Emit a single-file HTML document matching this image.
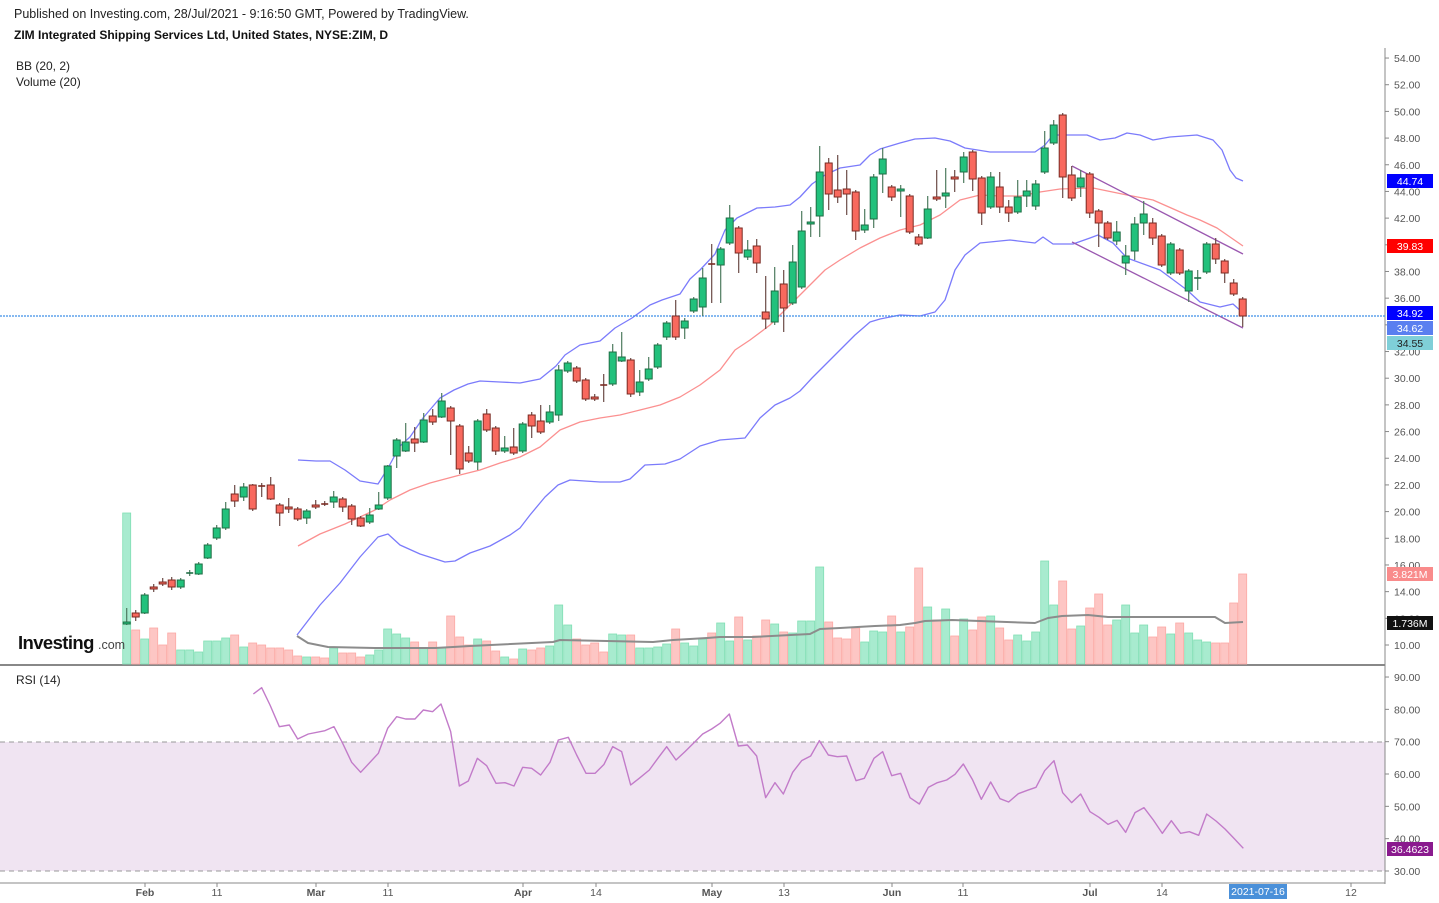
<!DOCTYPE html>
<html><head><meta charset="utf-8">
<style>
html,body{margin:0;padding:0;background:#fff;}
svg{display:block;font-family:"Liberation Sans",Arial,sans-serif;}
</style></head>
<body>
<svg id="s" width="1439" height="903" viewBox="0 0 1439 903" xmlns="http://www.w3.org/2000/svg">
<rect width="1439" height="903" fill="#fff"/>
<text x="14" y="18" font-size="12.5" fill="#222">Published on Investing.com, 28/Jul/2021 - 9:16:50 GMT, Powered by TradingView.</text>
<text x="14" y="39" font-size="12" font-weight="bold" fill="#111">ZIM Integrated Shipping Services Ltd, United States, NYSE:ZIM, D</text>
<text x="16" y="70" font-size="12" fill="#222">BB (20, 2)</text>
<text x="16" y="86" font-size="12" fill="#222">Volume (20)</text>
<text x="16" y="684" font-size="12" fill="#222">RSI (14)</text>
<g id="g"></g>
</svg>
<script>
var NS="http://www.w3.org/2000/svg",G=document.getElementById('g');
function el(t,a,txt){var e=document.createElementNS(NS,t);for(var k in a)e.setAttribute(k,a[k]);if(txt!==undefined)e.textContent=txt;G.appendChild(e);return e;}
function X(i){return 126.7+9*i;}
el('rect',{x:0,y:742,width:1385,height:129,fill:'#f0e4f2'});
el('line',{x1:0,y1:742,x2:1385,y2:742,stroke:'#999','stroke-dasharray':'5,4','stroke-width':1});
el('line',{x1:0,y1:871,x2:1385,y2:871,stroke:'#999','stroke-dasharray':'5,4','stroke-width':1});
el('line',{x1:1385,y1:48,x2:1385,y2:884,stroke:'#888','stroke-width':1});
el('line',{x1:0,y1:665,x2:1385,y2:665,stroke:'#888','stroke-width':2});
el('line',{x1:0,y1:883,x2:1385,y2:883,stroke:'#888','stroke-width':1});
for(var p=10;p<=54;p+=2){var y=645-(p-10)*13.34;el('line',{x1:1385,y1:y,x2:1389,y2:y,stroke:'#888'});el('text',{x:1394,y:y+4,'font-size':10.5,fill:'#555'},p.toFixed(2));}
for(var r=30;r<=90;r+=10){var y=871-(r-30)*3.233;el('line',{x1:1385,y1:y,x2:1389,y2:y,stroke:'#888'});el('text',{x:1394,y:y+4,'font-size':10.5,fill:'#555'},r.toFixed(2));}
var xl=[["Feb",145],["11",217],["Mar",316],["11",388],["Apr",523],["14",596],["May",712],["13",784],["Jun",892],["11",963],["Jul",1090],["14",1162],["12",1351]];
xl.forEach(function(a){el('line',{x1:a[1],y1:883,x2:a[1],y2:887,stroke:'#888'});el('text',{x:a[1],y:896,'font-size':10.5,fill:'#555','text-anchor':'middle','font-weight':(isNaN(+a[0])?'bold':'normal')},a[0]);});
el('rect',{x:1229,y:884,width:58,height:15,fill:'#4a90d9'});
el('text',{x:1258,y:895,'font-size':10.5,fill:'#fff','text-anchor':'middle'},'2021-07-16');
var V="g513,r630,g639,r628,r645,r633,g650,g650,g652,g641,g641,g638,r635,g647,r643,r645,r648,r648,r650,r656,g657,r657,r658,g648,r653,r653,r657,g655,g650,g629,g634,g638,r642,g648,r642,g648,r616,r637,r645,g639,r641,r651,g657,r659,g649,r650,r648,g646,g605,g625,r639,r645,r643,r652,g634,g635,r635,g648,g648,g647,g644,r629,g643,g646,g639,r633,g623,g641,r617,g640,r636,r620,g624,r632,g633,g621,g621,g567,r622,r638,r639,r628,g642,g631,g632,r616,g632,r627,r568,g607,r620,g609,r636,g619,r630,r617,g616,r628,r640,g635,g641,g632,g561,g605,r581,r629,g626,r608,r594,r625,g620,g605,g633,g625,r637,r627,g634,r623,g633,g640,g642,r643,r643,r603,r574".split(',');
V.forEach(function(v,i){var t=+v.slice(1),g=v[0]=='g';el('rect',{x:X(i)-4,y:t,width:8,height:664-t,fill:g?'#a8ebcf':'#fdc6c4',stroke:g?'#80dfb4':'#fca9a5','stroke-width':0.8});});
function poly(pts,c,w){el('polyline',{points:pts.map(function(p){return p.join(',')}).join(' '),fill:'none',stroke:c,'stroke-width':w||1.2,'stroke-linejoin':'round'});}
poly([[297,636],[308,643],[328,647],[375,648],[435,648],[453,647],[470,646],[553,642],[560,640],[653,642],[673,640],[707,638],[720,637],[753,637],[810,634],[820,629],[840,628],[875,626],[900,625],[915,623],[925,621],[952,620],[1035,623],[1048,618],[1062,616],[1088,615],[1108,617],[1215,617],[1225,623],[1243,622]],'#8c8c8c',2);
poly([[298,460],[316,461],[330,461],[345,470],[360,481],[378,484],[388,468],[400,446],[410,437],[423,418],[440,398],[454,390],[468,384],[480,381],[500,382],[520,383],[540,379],[556,366],[565,355],[580,345],[600,341],[615,328],[632,318],[650,305],[662,300],[680,294],[690,279],[700,270],[715,254],[725,230],[737,218],[757,208],[775,207],[790,205],[800,197],[812,184],[825,175],[840,168],[860,165],[870,155],[880,149],[890,146],[900,143],[915,139],[935,138],[950,141],[965,148],[990,152],[1035,152],[1045,145],[1053,135],[1065,135],[1087,135],[1100,140],[1115,138],[1127,133],[1140,135],[1153,140],[1170,137],[1197,135],[1213,140],[1222,150],[1230,170],[1236,178],[1243,181]],'#7b7bfb',1.3);
poly([[297,635],[320,605],[340,583],[360,557],[378,537],[388,534],[400,545],[420,554],[445,562],[455,561],[470,553],[490,546],[510,535],[520,528],[530,515],[545,497],[558,485],[570,480],[600,482],[620,482],[630,479],[645,465],[665,464],[680,459],[700,446],[720,440],[745,438],[760,418],[775,405],[790,398],[800,391],[812,378],[825,365],[840,350],[855,335],[870,322],[880,319],[900,315],[920,316],[935,312],[945,300],[955,270],[965,255],[980,243],[1010,240],[1035,243],[1043,237],[1053,244],[1073,244],[1090,238],[1098,235],[1113,243],[1127,258],[1160,270],[1187,290],[1200,302],[1220,307],[1233,304],[1243,313]],'#7b7bfb',1.3);
poly([[298,546],[320,534],[345,524],[375,510],[390,500],[410,490],[430,483],[460,475],[480,470],[500,463],[520,457],[540,447],[560,430],[580,422],[600,418],[620,415],[640,410],[660,405],[680,397],[700,385],[720,370],[735,350],[750,340],[770,325],[790,305],[810,285],[825,270],[840,260],[860,248],[880,238],[900,230],[920,225],[940,215],[960,200],[980,195],[1000,196],[1020,196],[1040,192],[1060,189],[1093,188],[1127,195],[1153,200],[1187,215],[1200,220],[1217,228],[1243,246]],'#fb9090',1.3);
el('line',{x1:1072,y1:166,x2:1243,y2:254,stroke:'#9a58b0','stroke-width':1.3});
el('line',{x1:1072,y1:242,x2:1243,y2:328,stroke:'#9a58b0','stroke-width':1.3});
el('line',{x1:0,y1:316,x2:1385,y2:316,stroke:'#3d8fe8','stroke-width':1.3,'stroke-dasharray':'2,1'});
var C="g 622 624 608 625;r 613 617 610 621;g 595 613 593 614;r 587 589 584 592;r 582 584 578 586;r 580 587 577 590;g 580 587 578 589;g 573 574 570 576;g 564 574 562 575;g 545 558 543 559;g 528 538 525 540;g 509 528 502 530;r 494 501 485 507;g 487 497 483 501;r 485 509 484 511;r 486 487 483 497;r 485 499 477 500;r 505 513 503 526;r 507 509 498 513;r 509 519 507 521;g 511 518 509 524;r 505 507 500 509;r 504 505 501 506;g 497 502 491 508;r 499 507 497 512;r 506 519 504 525;r 518 526 516 527;g 515 522 508 524;g 505 509 492 510;g 466 498 465 500;g 440 456 438 468;g 442 451 423 452;r 439 443 427 452;g 420 442 413 443;r 416 422 409 425;g 401 417 393 418;r 408 421 406 455;r 426 469 424 474;r 453 461 446 463;g 421 462 419 470;r 414 430 409 432;r 428 451 426 455;g 448 451 436 453;r 447 453 428 455;g 424 451 422 453;r 415 426 412 438;r 421 432 405 434;g 412 422 405 424;g 370 415 365 421;g 363 371 361 373;r 368 381 366 383;r 380 399 378 401;r 397 399 394 401;r 385 386 374 402;g 352 384 344 386;g 357 361 332 362;r 360 394 358 397;g 382 392 370 396;g 369 379 357 381;g 345 367 343 369;g 323 337 321 340;r 316 337 300 340;g 321 328 318 339;g 299 311 297 313;g 278 307 268 316;r 264 265 244 303;g 249 265 247 303;g 218 243 205 245;r 228 253 226 273;g 250 257 240 260;r 246 263 239 273;r 312 319 276 329;g 291 322 267 325;r 284 308 270 332;g 262 303 245 305;g 231 287 211 289;g 222 224 207 237;g 172 216 146 237;r 163 194 158 210;r 190 197 155 203;r 189 194 170 215;r 192 231 190 240;g 225 230 209 233;g 177 219 174 228;g 159 174 148 193;r 187 197 185 201;g 189 191 185 217;r 196 232 194 234;r 237 244 234 246;g 209 238 196 239;r 197 199 170 201;g 193 196 168 208;r 177 179 170 192;g 157 172 152 183;r 152 179 150 191;r 178 213 176 225;g 177 207 172 209;r 187 207 172 213;r 207 213 200 222;g 197 212 180 214;g 191 196 180 207;g 184 206 180 210;g 148 172 131 174;g 125 143 120 145;r 115 177 113 198;r 175 198 166 201;g 178 187 170 197;r 174 213 172 218;r 211 223 209 247;r 223 238 221 240;g 232 241 221 245;g 256 263 245 275;g 224 251 217 260;g 214 223 201 235;r 223 238 218 245;r 236 265 234 267;g 244 273 242 275;r 250 273 248 275;g 271 291 269 302;g 278 279 270 290;g 244 272 242 274;r 244 259 238 264;r 261 273 259 283;r 283 294 279 296;r 299 316 297 327".split(';');
C.forEach(function(s,i){var a=s.split(' '),g=a[0]=='g',t=+a[1],b=+a[2],h=+a[3],l=+a[4],x=X(i);
el('line',{x1:x,y1:h,x2:x,y2:l,stroke:g?'#4d7a5e':'#6b4a45','stroke-width':1.2});
if(b-t<2){el('line',{x1:x-3.5,y1:t,x2:x+3.5,y2:t,stroke:g?'#1f6e45':'#7a2a22','stroke-width':1.6});}
else el('rect',{x:x-3.5,y:t,width:7,height:b-t,fill:g?'#22c17c':'#f8695e',stroke:g?'#1f6e45':'#7a2a22','stroke-width':1});});
var r7=[[40,57],[65,38],[90,90],[118,155],[148,150],[173,192],[205,177],[255,167],[282,155],[308,205],[335,262],[362,292],[415,235],[443,160],[470,125],[497,132],[525,132],[550,105],[578,110],[603,87],[632,170],[658,333],[685,318],[712,250],[740,272],[768,325],[795,323],[822,333],[848,277],[875,280],[902,300],[930,262],[955,195],[985,187],[1010,240],[1038,295],[1065,295],[1092,268],[1118,215],[1145,230],[1172,330],[1200,308],[1228,285],[1255,248],[1280,215],[1308,255],[1335,230],[1360,205],[1388,177],[1415,162],[1440,145],[1468,117],[1495,213]].map(function(p){return [240+p[0]/3,675+p[1]/3];});
var r8=[[22,45],[50,78],[77,203],[105,158],[130,192],[158,127],[185,92],[212,78],[238,32],[265,75],[292,80],[320,78],[348,152],[373,145],[402,85],[428,65],[455,137],[482,130],[510,203],[538,222],[565,172],[592,158],[620,150],[645,133],[670,102],[697,148],[724,208],[752,156],[780,206],[806,216],[835,191],[862,181],[888,172],[914,122],[942,92],[968,188],[995,218],[1022,192],[1050,245],[1077,262],[1104,283],[1131,271],[1157,307],[1185,248],[1212,233],[1240,270],[1267,310],[1294,272],[1322,310],[1348,305],[1376,316],[1400,252],[1428,273],[1455,297],[1482,325],[1510,355]].map(function(p){return [740+p[0]/3,730+p[1]/3];});
poly(r7.concat(r8),'#c27bc9',1.4);
function badge(y,t,bg,fc){el('rect',{x:1387,y:y-7,width:46,height:14,fill:bg});el('text',{x:1410,y:y+4,'font-size':10.5,fill:fc||'#fff','text-anchor':'middle'},t);}
badge(181,'44.74','#0000ff');badge(246,'39.83','#ff0000');badge(313,'34.92','#0000ff');badge(328,'34.62','#5a7ff0');badge(343,'34.55','#7fcfd8','#222');
badge(574,'3.821M','#f98b8b');badge(623,'1.736M','#111');badge(849,'36.4623','#8a1a8e');
el('text',{x:18,y:649,'font-size':18.5,'font-weight':'bold',fill:'#111','letter-spacing':'-0.6'},'Investing');
el('text',{x:98,y:649,'font-size':12.5,fill:'#444'},'.com');
</script>
</body></html>
